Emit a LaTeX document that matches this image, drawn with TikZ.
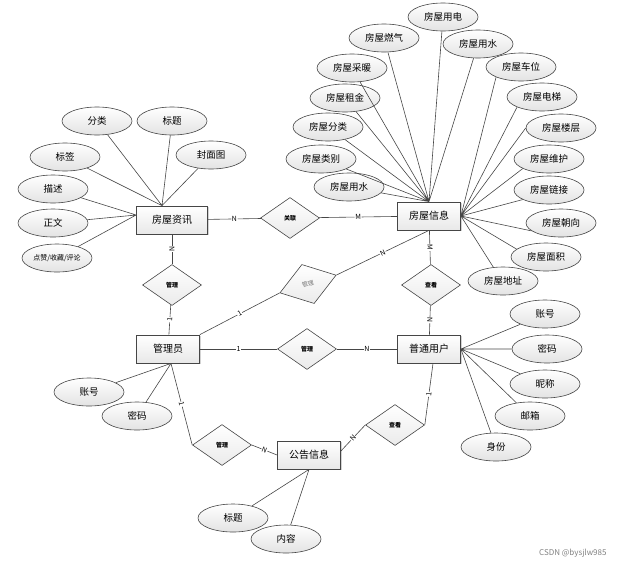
\documentclass[tikz,border=0pt]{standalone}
\usepackage{fontspec}
\setmainfont{Noto Sans CJK SC}
\usetikzlibrary{shapes.geometric, shadows}
\definecolor{erline}{RGB}{70,70,70}
\definecolor{ergray}{RGB}{120,120,120}

\begin{document}
\begin{tikzpicture}[x=1pt, y=-1pt,
        entity/.style={rectangle, draw=erline, line width=0.8pt,
                    minimum width=63pt, minimum height=28pt,
                    top color=white, bottom color=gray!18,
                    drop shadow={shadow xshift=1.2pt, shadow yshift=-1.2pt, opacity=0.35},
                    font=\fontsize{10}{12}\selectfont},
        attr/.style={ellipse, draw=erline, line width=0.6pt,
                    minimum width=70pt, minimum height=28pt, inner sep=0pt,
                    top color=white, bottom color=gray!22,
                    font=\fontsize{9.5}{11}\selectfont},
        rel/.style={diamond, draw=erline, line width=0.6pt,
                    minimum width=59pt, minimum height=41pt, inner sep=0pt,
                    top color=white, bottom color=gray!16,
                    font=\fontsize{6}{7}\selectfont\bfseries},
        link/.style={draw=erline, line width=0.6pt},
        card/.style={fill=white, inner sep=0.6pt, sloped,
                    font=\fontsize{7}{8}\selectfont}
      ]
        \useasboundingbox (0,0) rectangle (617,565);

        % entities
        \node[entity, minimum width=71pt] (news) at (172,220) {房屋资讯};
        \node[entity] (info)   at (429,216) {房屋信息};
        \node[entity] (admin)  at (168,349) {管理员};
        \node[entity] (user)   at (429,349) {普通用户};
        \node[entity] (notice) at (309,455) {公告信息};

        % relations
        \node[rel] (rLink)  at (290,218) {关联};
        \node[rel] (rMgrA)  at (172,285) {管理};
        \node[rel] (rViewA) at (431,285) {查看};
        \node[rel] (rMgrB)  at (307,349) {管理};
        \node[rel, rotate=17.5, text=ergray, font=\fontsize{6}{7}\selectfont] (rMgrC) at (308,284) {管理};
        \node[rel] (rMgrD)  at (222,445) {管理};
        \node[rel] (rViewB) at (395,425) {查看};

        % attributes of 房屋信息
        \node[attr] (i1)  at (443,17)  {房屋用电};
        \node[attr] (i2)  at (384,38)  {房屋燃气};
        \node[attr] (i3)  at (478,44)  {房屋用水};
        \node[attr] (i4)  at (352,68)  {房屋采暖};
        \node[attr] (i5)  at (345,98)  {房屋租金};
        \node[attr] (i6)  at (328,127) {房屋分类};
        \node[attr] (i7)  at (321,159) {房屋类别};
        \node[attr] (i8)  at (349,187) {房屋用水};
        \node[attr] (i9)  at (521,67)  {房屋车位};
        \node[attr] (i10) at (542,97)  {房屋电梯};
        \node[attr] (i11) at (561,128) {房屋楼层};
        \node[attr] (i12) at (549,159) {房屋维护};
        \node[attr] (i13) at (549,190) {房屋链接};
        \node[attr] (i14) at (561,223) {房屋朝向};
        \node[attr] (i15) at (546,257) {房屋面积};
        \node[attr] (i16) at (503,281) {房屋地址};

        % attributes of 房屋资讯
        \node[attr] (n1) at (97,121)  {分类};
        \node[attr] (n2) at (172,121) {标题};
        \node[attr] (n3) at (65,157)  {标签};
        \node[attr] (n4) at (211,155) {封面图};
        \node[attr] (n5) at (53,189)  {描述};
        \node[attr] (n6) at (53,223)  {正文};
        \node[attr, font=\fontsize{7}{8}\selectfont] (n7) at (57,258) {点赞/收藏/评论};

        % attributes of 管理员, 普通用户, 公告信息
        \node[attr] (a1) at (89,392)  {账号};
        \node[attr] (a2) at (137,416) {密码};
        \node[attr] (u1) at (545,314) {账号};
        \node[attr] (u2) at (547,349) {密码};
        \node[attr] (u3) at (545,384) {昵称};
        \node[attr] (u4) at (530,416) {邮箱};
        \node[attr] (u5) at (496,447) {身份};
        \node[attr] (g1) at (233,518) {标题};
        \node[attr] (g2) at (286,539) {内容};

        % attribute links
        \draw[link] (i1) -- (info.north) (i2) -- (info.north) (i3) -- (info.north)
                    (i4) -- (info.north) (i5) -- (info.north) (i6) -- (info.north)
                    (i7) -- (info.north) (i8) -- (info.north);
        \draw[link] (i9.south west) -- (info.east) (i10.south west) -- (info.east)
                    (i11.west) -- (info.east) (i12.200) -- (info.east)
                    (i13.200) -- (info.east) (i14.195) -- (info.east)
                    (i15.165) -- (info.east) (i16.125) -- (info.east);
        \draw[link] (n1) -- ([xshift=-10pt]news.north) (n2) -- ([xshift=-10pt]news.north)
                    (n3) -- ([xshift=-10pt]news.north) (n4) -- ([xshift=-10pt]news.north);
        \draw[link] (n5) -- ([yshift=5pt]news.west) (n6) -- ([yshift=5pt]news.west)
                    (n7) -- ([yshift=5pt]news.west);
        \draw[link] (a1) -- ([xshift=3pt]admin.south) (a2) -- ([xshift=3pt]admin.south);
        \draw[link] (u1) -- (user.east) (u2) -- (user.east) (u3) -- (user.east)
                    (u4) -- (user.east) (u5) -- (user.east);
        \draw[link] (g1) -- (notice.south) (g2) -- (notice.south);

        % relation links
        \draw[link] (news) -- node[card] {N} (rLink);
        \draw[link] (rLink) -- node[card] {M} (info);
        \draw[link] (news) -- node[card] {N} (rMgrA);
        \draw[link] (rMgrA) -- node[card] {1} (admin);
        \draw[link] (info) -- node[card] {M} (rViewA);
        \draw[link] (rViewA) -- node[card] {N} (user);
        \draw[link] (admin) -- node[card] {1} (rMgrB);
        \draw[link] (rMgrB) -- node[card] {N} (user);
        \draw[link] (admin.north east) -- node[card] {1} (rMgrC.west);
        \draw[link] (rMgrC.east) -- node[card] {N} (info.south);
        \draw[link] ([xshift=3pt]admin.south) -- node[card] {1} (rMgrD.west);
        \draw[link] (rMgrD.east) -- node[card] {N} (notice.west);
        \draw[link] ([xshift=4pt]user.south) -- node[card] {1} (rViewB.east);
        \draw[link] (rViewB.west) -- node[card] {N} ([yshift=4pt]notice.east);

        \node[anchor=east, text=gray, font=\fontsize{8}{9}\selectfont] (mark) at (610,553) {CSDN @bysjlw985};
      \end{tikzpicture}
\end{document}
